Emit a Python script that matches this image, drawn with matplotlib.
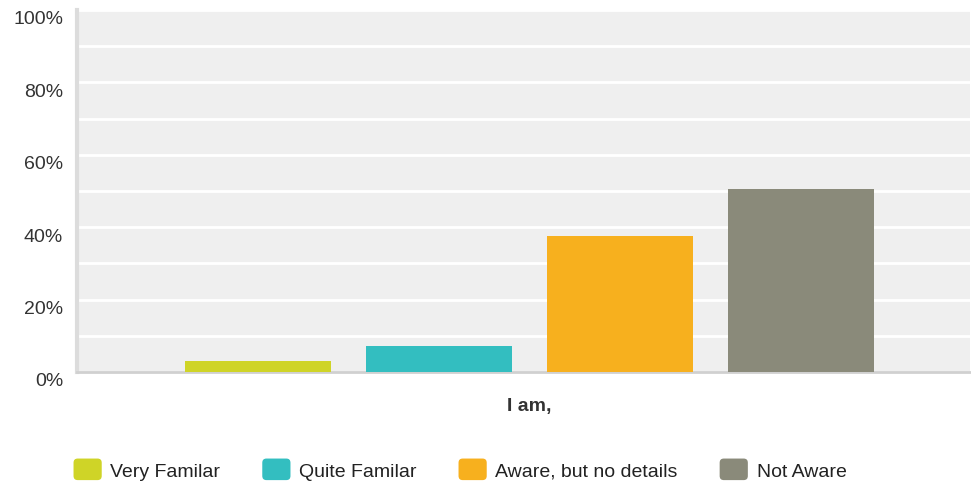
import matplotlib
matplotlib.use("Agg")
import matplotlib.pyplot as plt
import matplotlib.transforms as mtransforms
from matplotlib.patches import FancyBboxPatch
from matplotlib.legend_handler import HandlerPatch
import matplotlib.patches as mpatches

# data
categories = ["Very Familar", "Quite Familar", "Aware, but no details", "Not Aware"]
values = [3.1, 7.3, 37.6, 50.6]
colors = ["#cfd427", "#33bec0", "#f7b01e", "#8a8a7a"]
yticks = [0, 20, 40, 60, 80, 100]
xlabel = "I am,"

plt.rcParams["font.family"] = ["Liberation Sans", "DejaVu Sans"]

W, H = 971, 487
fig = plt.figure(figsize=(W / 100, H / 100), dpi=100)
ax = fig.add_axes([77 / W, (H - 372) / H, (970 - 77) / W, 362 / H])
ax.set_facecolor("#efefef")

x = list(range(len(values)))
ax.bar(x, values, width=0.807, color=colors, zorder=3)

ax.set_xlim(-1.0, 3.934)
ax.set_ylim(0, 100)
ax.set_yticks(yticks)
ax.set_yticklabels([f"{t}%" for t in yticks], fontsize=14, color="#333333")
ax.set_yticks(range(10, 100, 20), minor=True)
ax.tick_params(axis="y", which="both", length=0, pad=10)
ax.tick_params(axis="x", length=0, labelbottom=False)
ax.grid(axis="y", which="both", color="white", linewidth=2, zorder=1)
ax.set_axisbelow(True)

# labels sit a few pixels below their gridline in the reference
offset = mtransforms.ScaledTranslation(0, -8 / 100, fig.dpi_scale_trans)
for lbl in ax.get_yticklabels():
    lbl.set_transform(lbl.get_transform() + offset)

for s in ["top", "right"]:
    ax.spines[s].set_visible(False)
ax.spines["left"].set_color("#dcdcdc")
ax.spines["left"].set_linewidth(3)
ax.spines["bottom"].set_color("#d0d0d0")
ax.spines["bottom"].set_linewidth(2)

fig.text(529 / W, (H - 407) / H, xlabel, ha="center", va="center",
         fontsize=14, fontweight="bold", color="#333333")


class RoundBoxHandler(HandlerPatch):
    def create_artists(self, legend, orig_handle, xdescent, ydescent,
                       width, height, fontsize, trans):
        p = FancyBboxPatch((-xdescent + 2, -ydescent + 1), width - 4, height - 1,
                           boxstyle="round,pad=2,rounding_size=3",
                           facecolor=orig_handle.get_facecolor(),
                           edgecolor="none", transform=trans)
        return [p]


handles = [mpatches.Patch(facecolor=c, label=l) for c, l in zip(colors, categories)]
fig.legend(handles=handles, ncol=4, loc="center", frameon=False,
           bbox_to_anchor=(460 / W, (H - 471) / H), fontsize=14,
           handlelength=1.45, handleheight=1.0, handletextpad=0.45,
           columnspacing=2.15, labelcolor="#222222",
           handler_map={mpatches.Patch: RoundBoxHandler()})

fig.savefig("out.png", dpi=100, facecolor="white")
